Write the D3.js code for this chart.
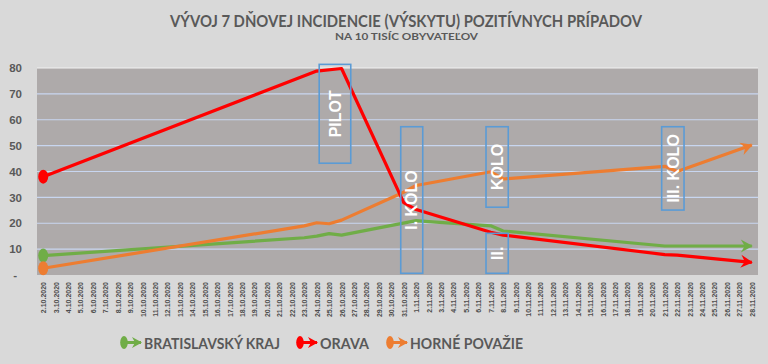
<!DOCTYPE html>
<html><head><meta charset="utf-8">
<script src="https://cdn.jsdelivr.net/npm/d3@7"></script>
<style>
html,body{margin:0;padding:0;background:#d9d9d9;}
svg{display:block;}
</style></head>
<body>
<svg id="chart" width="768" height="364"></svg>
<script>
// ---- data ----
const titleText = "VÝVOJ 7 DŇOVEJ INCIDENCIE (VÝSKYTU) POZITÍVNYCH PRÍPADOV";
const subtitleText = "NA 10 TISÍC OBYVATEĽOV";
const dates = ["2.10.2020","3.10.2020","4.10.2020","5.10.2020","6.10.2020","7.10.2020","8.10.2020","9.10.2020",
"10.10.2020","11.10.2020","12.10.2020","13.10.2020","14.10.2020","15.10.2020","16.10.2020","17.10.2020","18.10.2020",
"19.10.2020","20.10.2020","21.10.2020","22.10.2020","23.10.2020","24.10.2020","25.10.2020","26.10.2020","27.10.2020",
"28.10.2020","29.10.2020","30.10.2020","31.10.2020","1.11.2020","2.11.2020","3.11.2020","4.11.2020","5.11.2020",
"6.11.2020","7.11.2020","8.11.2020","9.11.2020","10.11.2020","11.11.2020","12.11.2020","13.11.2020","14.11.2020",
"15.11.2020","16.11.2020","17.11.2020","18.11.2020","19.11.2020","20.11.2020","21.11.2020","22.11.2020","23.11.2020",
"24.11.2020","25.11.2020","26.11.2020","27.11.2020","28.11.2020"];
const yTicks = [0,10,20,30,40,50,60,70,80];
const yTickLabels = ["-","10","20","30","40","50","60","70","80"];

const seriesNames = ["BRATISLAVSKÝ KRAJ","ORAVA","HORNÉ POVAŽIE"];
const bratislavaDates = ["2.10.2020","23.10.2020","24.10.2020","25.10.2020","26.10.2020","1.11.2020","2.11.2020","7.11.2020","8.11.2020","21.11.2020","28.11.2020"];
const bratislavaValues = [7.5,14.4,15,16,15.4,21,20.6,19,17,11.2,11.2];
const oravaDates = ["2.10.2020","24.10.2020","26.10.2020","31.10.2020","1.11.2020","7.11.2020","8.11.2020","21.11.2020","22.11.2020","28.11.2020"];
const oravaValues = [38,78.8,79.8,28,25.3,16.5,15.4,7.9,7.7,4.9];
const povazieDates = ["2.10.2020","23.10.2020","24.10.2020","25.10.2020","26.10.2020","31.10.2020","1.11.2020","7.11.2020","8.11.2020","21.11.2020","22.11.2020","28.11.2020"];
const povazieValues = [2.6,19,20.2,19.8,21.2,32,34.6,39.9,37.1,42,40,50.2];

// annotation boxes (category index range, value range)
const annotLabels = ["PILOT","I. KOLO","KOLO","II.","III. KOLO"];
const annotIdxFrom = [22.2,28.76,35.62,35.62,49.75];
const annotIdxTo = [24.74,30.53,37.41,37.41,51.55];
const annotTop = [81.4,57.3,57.3,16.1,57.3];
const annotBottom = [43.2,0.66,26.2,0.66,25.1];

// ---- layout ----
const colors = ["#70ad47","#ff0000","#ed7d31"];
const textGray = "#595959";
const plot = {left:37, right:758, top:68, bottom:275};
const svg = d3.select("#chart");

function hasFont(name){
  const t = svg.append("text").attr("font-size",40).attr("font-family",`'${name}', monospace`).text("ABCDEFGHIJ abcdefg 0123");
  const w1 = t.node().getComputedTextLength();
  t.attr("font-family","monospace");
  const w2 = t.node().getComputedTextLength();
  t.remove();
  return Math.abs(w1-w2) > 1;
}
const narrow = hasFont("Liberation Sans Narrow") ? "'Liberation Sans Narrow'" : "Lato";
const headFont = narrow + ", Lato, 'Open Sans', sans-serif";

// fit a text to a target width: shrink the font if much too wide, then fine-tune with textLength
function fitText(sel, target, size){
  sel.attr("font-size", size);
  let w = sel.node().getComputedTextLength();
  if (w > target*1.12) { size = size*target*1.12/w; sel.attr("font-size", size); w = sel.node().getComputedTextLength(); }
  if (Math.abs(w-target) > 1) sel.attr("textLength", target).attr("lengthAdjust","spacingAndGlyphs");
}

const x = d3.scalePoint().domain(dates).range([plot.left, plot.right]).padding(0.5);
const xi = d3.scaleLinear().domain([0, dates.length-1]).range([x(dates[0]), x(dates[dates.length-1])]);
const y = d3.scaleLinear().domain([0,80]).range([plot.bottom, plot.top]);

// title
const t1 = svg.append("text").attr("x",406).attr("y",26.8).attr("text-anchor","middle")
  .attr("font-family",headFont).attr("font-weight","bold")
  .attr("fill",textGray).text(titleText);
fitText(t1, 472, 19.5);
const t2 = svg.append("text").attr("x",406.5).attr("y",39.6).attr("text-anchor","middle")
  .attr("font-family",headFont).attr("font-weight","bold")
  .attr("fill",textGray).text(subtitleText);
fitText(t2, 143, 10);

// plot background
svg.append("rect").attr("x",plot.left).attr("y",plot.top).attr("width",plot.right-plot.left)
  .attr("height",plot.bottom-plot.top).attr("fill","#aeaaaa");

// gridlines
svg.append("g").selectAll("line").data(yTicks).join("line")
  .attr("x1",plot.left).attr("x2",plot.right)
  .attr("y1",d=>y(d)).attr("y2",d=>y(d))
  .attr("stroke",d=>d===80?"#f2f2f2":"#c8d6f0").attr("stroke-width",d=>d===0?0:1.2);

// y axis
const yAxis = d3.axisLeft(y).tickValues(yTicks).tickSize(0).tickPadding(0)
  .tickFormat((d,i)=>yTickLabels[i]);
const yg = svg.append("g").attr("transform","translate(22,0)").call(yAxis);
yg.select(".domain").remove();
yg.selectAll("text").attr("font-family","'Liberation Sans', Arial, sans-serif").attr("font-weight","bold")
  .attr("font-size",11.5).attr("fill",textGray)
  .attr("dx",(d)=>d===0?-5:0);

// x axis
const xAxis = d3.axisBottom(x).tickSize(0).tickPadding(0);
const xg = svg.append("g").attr("transform",`translate(0,${plot.bottom})`).call(xAxis);
xg.select(".domain").remove();
xg.selectAll("text")
  .attr("font-family","'Liberation Sans', Arial, sans-serif").attr("font-weight","bold")
  .attr("font-size",7).attr("fill","#4d4d4d")
  .attr("transform","rotate(-90)").attr("text-anchor","end")
  .attr("x",-7).attr("y",0).attr("dy","0.35em");

// markers
const defs = svg.append("defs");
colors.forEach((c,i)=>{
  defs.append("marker").attr("id","arr"+i).attr("markerUnits","userSpaceOnUse")
    .attr("viewBox","-14 -8 18 16").attr("markerWidth",18).attr("markerHeight",16)
    .attr("refX",0).attr("refY",0).attr("orient","auto")
    .append("path").attr("d","M-11,-6.5 L1,0 L-11,6.5 L-7,0 Z").attr("fill",c);
  defs.append("marker").attr("id","larr"+i).attr("markerUnits","userSpaceOnUse")
    .attr("viewBox","-12 -7 15 14").attr("markerWidth",15).attr("markerHeight",14)
    .attr("refX",0).attr("refY",0).attr("orient","auto")
    .append("path").attr("d","M-9,-5.5 L1,0 L-9,5.5 L-6,0 Z").attr("fill",c);
});

// series
const allSeries = [
  bratislavaDates.map((d,i)=>({date:d, v:bratislavaValues[i]})),
  oravaDates.map((d,i)=>({date:d, v:oravaValues[i]})),
  povazieDates.map((d,i)=>({date:d, v:povazieValues[i]}))
];
const line = d3.line().x(d=>x(d.date)).y(d=>y(d.v));
const drawOrder = [0,2,1];
drawOrder.forEach(si=>{
  const s = allSeries[si];
  svg.append("path").datum(s).attr("d",line).attr("fill","none")
    .attr("stroke",colors[si]).attr("stroke-width",3.2).attr("stroke-linejoin","round")
    .attr("marker-end",`url(#arr${si})`);
  svg.append("ellipse").attr("cx",x(s[0].date)).attr("cy",y(s[0].v))
    .attr("rx",5).attr("ry",7).attr("fill",colors[si]);
});

// annotation boxes
annotLabels.forEach((lab,i)=>{
  const x0 = xi(annotIdxFrom[i]), x1 = xi(annotIdxTo[i]);
  const y0 = y(annotTop[i]), y1 = y(annotBottom[i]);
  svg.append("rect").attr("x",x0).attr("y",y0).attr("width",x1-x0).attr("height",y1-y0)
    .attr("fill","none").attr("stroke","#5b9bd5").attr("stroke-width",1.6);
  const cx=(x0+x1)/2, cy=(y0+y1)/2;
  svg.append("text").attr("transform",`translate(${cx},${cy}) rotate(-90)`)
    .attr("text-anchor","middle").attr("dy","0.36em")
    .attr("font-family","'Liberation Sans', Arial, sans-serif").attr("font-weight","bold")
    .attr("font-size",16).attr("fill","#ffffff").text(lab);
});

// legend
const legX = [121, 297, 387];
const legTextLen = [136, 49, 113];
seriesNames.forEach((n,i)=>{
  const g = svg.append("g").attr("transform",`translate(${legX[i]},342.5)`);
  g.append("line").attr("x1",2).attr("x2",20).attr("y1",0).attr("y2",0)
    .attr("stroke",colors[i]).attr("stroke-width",3).attr("marker-end",`url(#larr${i})`);
  g.append("ellipse").attr("cx",3).attr("cy",0).attr("rx",3.8).attr("ry",6.5).attr("fill",colors[i]);
  const t = g.append("text").attr("x",23).attr("y",6).attr("font-family",headFont)
    .attr("font-weight","bold").attr("fill",textGray).text(n);
  fitText(t, legTextLen[i], 17);
});
</script>
</body></html>
